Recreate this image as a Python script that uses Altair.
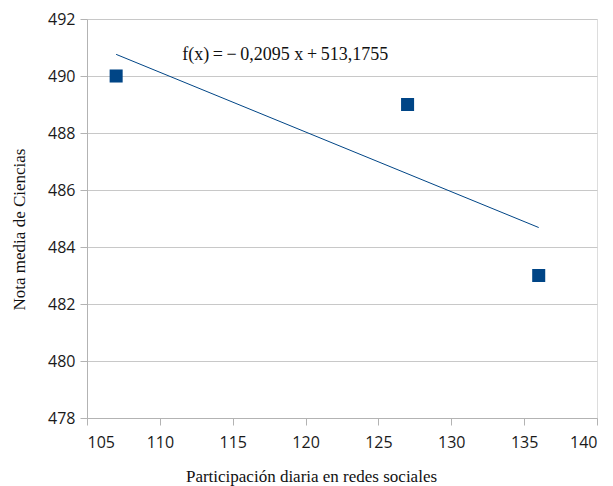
import altair as alt
import pandas as pd

x_vals = [107, 127, 136]
y_vals = [490, 489, 483]
slope = -0.2095
intercept = 513.1755
trend_x = [107, 136]
trend_y = [slope * v + intercept for v in trend_x]
label = "f(x)\u2009=\u2009\u2212\u20090,2095 x\u2009+\u2009513,1755"

pts = pd.DataFrame({"x": x_vals, "y": y_vals})
trend = pd.DataFrame({"x": trend_x, "y": trend_y})
ann = pd.DataFrame({"x": [118.6], "y": [490.56], "t": [label]})

xs = alt.Scale(domain=[105, 140], nice=False, zero=False)
ys = alt.Scale(domain=[478, 492], nice=False, zero=False)

xax = alt.Axis(values=list(range(105, 141, 5)), grid=False, title="Participación diaria en redes sociales",
               titleFont="Liberation Serif", titleFontSize=17, titleFontWeight="normal", titlePadding=18,
               titleColor="#111111", titleX=224,
               labelFont="Open Sans", labelFontSize=16, labelColor="#1a1a1a", labelPadding=9,
               domainColor="#b3b3b3", tickColor="#b3b3b3", tickSize=7)
yax = alt.Axis(values=list(range(478, 493, 2)), grid=True, gridColor="#c8c8c8", title="Nota media de Ciencias",
               titleFont="Liberation Serif", titleFontSize=17, titleFontWeight="normal", titlePadding=19,
               titleColor="#111111", titleY=210,
               labelFont="Open Sans", labelFontSize=16, labelColor="#1a1a1a", labelPadding=5,
               domainColor="#b3b3b3", tickColor="#b3b3b3", tickSize=7)

points = alt.Chart(pts).mark_point(shape="square", filled=True, size=170, color="#004586", opacity=1).encode(
    x=alt.X("x:Q", scale=xs, axis=xax), y=alt.Y("y:Q", scale=ys, axis=yax))
line = alt.Chart(trend).mark_line(color="#004586", strokeWidth=1).encode(
    x=alt.X("x:Q", scale=xs), y=alt.Y("y:Q", scale=ys))
text = alt.Chart(ann).mark_text(font="Liberation Serif", fontSize=18, color="#111111", align="center",
                                baseline="alphabetic").encode(
    x=alt.X("x:Q", scale=xs), y=alt.Y("y:Q", scale=ys), text="t:N")

chart = alt.layer(line, points, text).properties(
    width=510, height=399, padding={"left": 2, "top": 3, "right": 5, "bottom": 5}
).configure_view(stroke="#b3b3b3", strokeWidth=1).configure(background="white")
chart.save("out.html", embed_options={"renderer": "svg", "actions": False})
